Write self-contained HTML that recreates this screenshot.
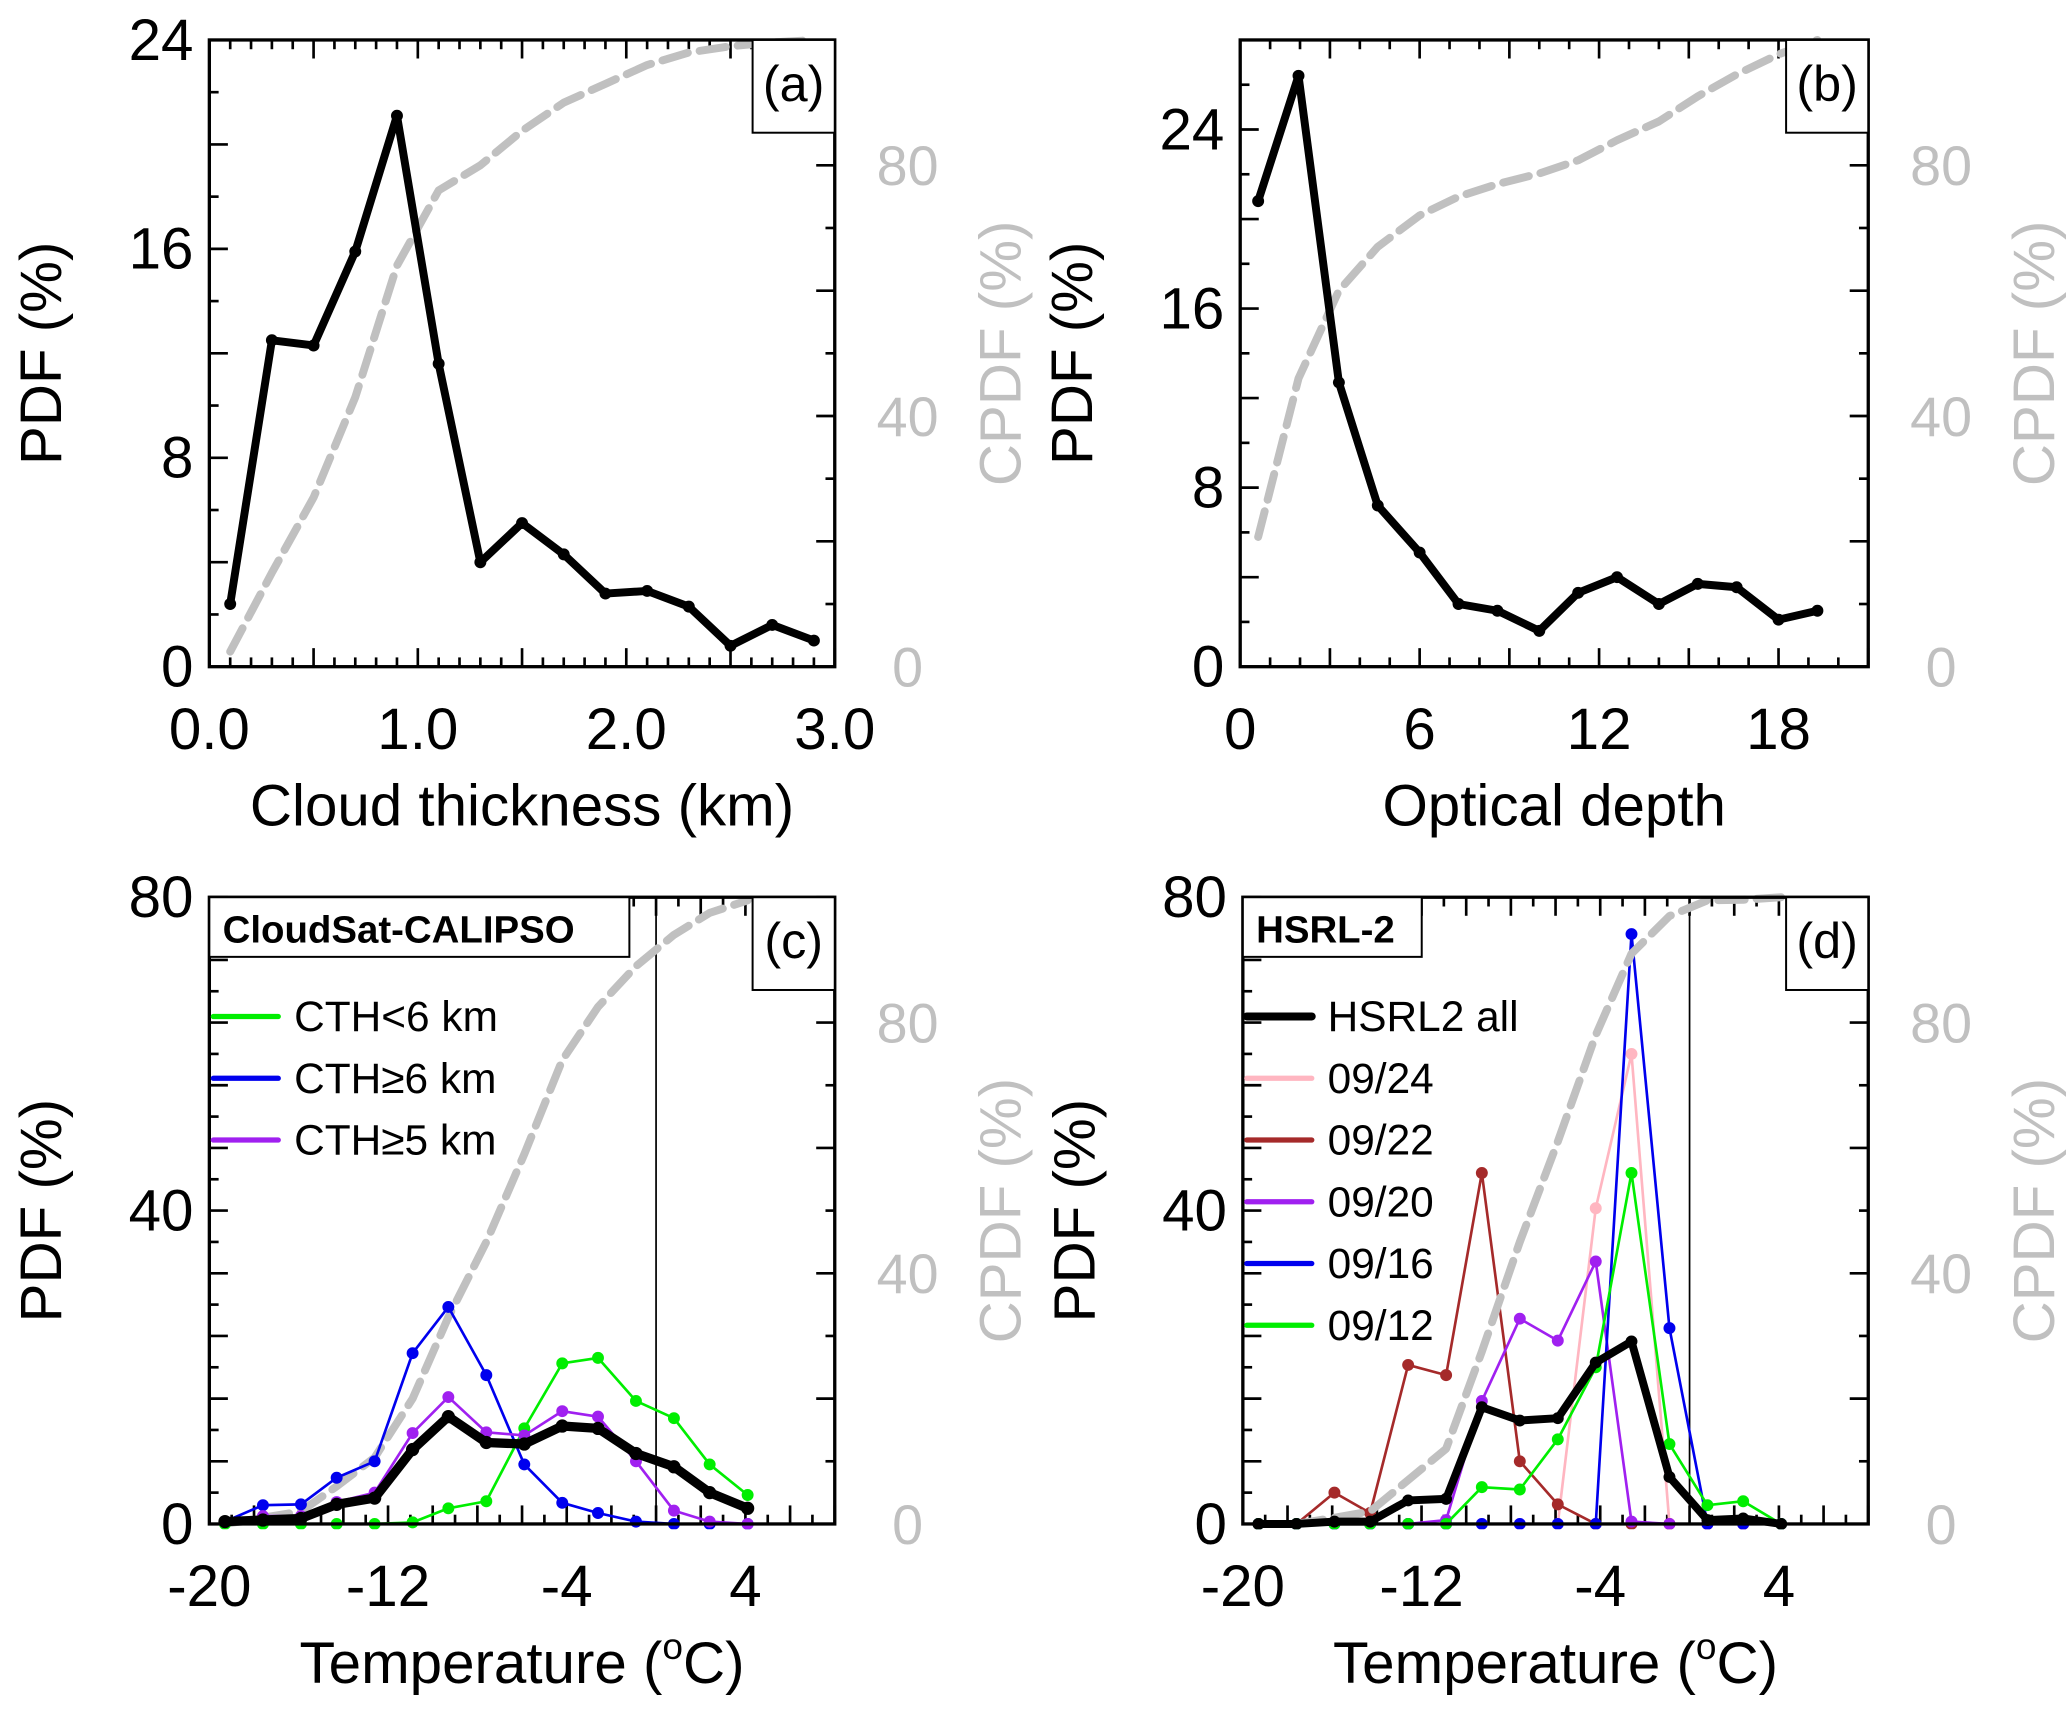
<!DOCTYPE html>
<html><head><meta charset="utf-8"><style>
html,body{margin:0;padding:0;background:#fff;}
svg{display:block;font-family:"Liberation Sans",sans-serif;}
</style></head><body>
<svg id="fig" width="2067" height="1711" viewBox="0 0 1560 1291" xmlns="http://www.w3.org/2000/svg"></svg>
<script>
// ---- Panel (a) data ----
const aX = [0.1,0.3,0.5,0.7,0.9,1.1,1.3,1.5,1.7,1.9,2.1,2.3,2.5,2.7,2.9];
const aPdf = [2.4,12.5,12.3,15.9,21.1,11.6,4.0,5.5,4.3,2.8,2.9,2.3,0.8,1.6,1.0];
const aCpdf = [2.4,15,27,43,64,76,80,85.5,90,93,96,98,99,99.6,100];
const aXTicks = [0,1,2,3];
const aXLabels = ["0.0","1.0","2.0","3.0"];
const aYTicks = [0,8,16,24];
// ---- Panel (b) data ----
const bX = [0.6,1.95,3.3,4.6,6.0,7.3,8.6,10.0,11.3,12.6,14.0,15.3,16.6,18.0,19.3];
const bPdf = [20.8,26.4,12.7,7.2,5.1,2.8,2.5,1.6,3.3,4.0,2.8,3.7,3.55,2.1,2.5];
const bCpdf = [20.7,46,60,67,72,75,77,78.7,80.8,84,87,91,94.5,97.7,100];
const bXTicks = [0,6,12,18];
const bYTicks = [0,8,16,24];
// ---- Panel (c) data ----
const cT = [-19.3,-17.6,-15.9,-14.3,-12.6,-10.9,-9.3,-7.6,-5.9,-4.2,-2.6,-0.9,0.8,2.4,4.1];
const cGreen = [0,0,0,0,0,0.2,2.0,2.9,12.2,20.5,21.2,15.7,13.5,7.6,3.7];
const cBlue = [0.3,2.4,2.5,5.9,8,21.8,27.7,19,7.6,2.7,1.4,0.3,0,0,0];
const cPurple = [0.3,1.0,1.0,2.8,4.0,11.6,16.2,11.7,11.3,14.4,13.7,8.0,1.7,0.3,0];
const cBlack = [0.3,0.5,0.7,2.5,3.3,9.5,13.7,10.4,10.2,12.5,12.2,9,7.3,4,2];
const cCpdf = [0,1,2,6,10.6,20,33,45,59,74,82.5,89,94,97.5,99.5];
// ---- Panel (d) data ----
const dT = [-19.3,-17.6,-15.9,-14.3,-12.6,-10.9,-9.3,-7.6,-5.9,-4.2,-2.6,-0.9,0.8,2.4,4.1];
const dAll = [0,0,0.3,0.3,3,3.2,14.9,13.2,13.5,20.6,23.3,6,0.5,0.7,0];
const d0924 = [0,0,0,0,0,0,0,0,0,40.3,60,0,0,0,0];
const d0922 = [0,0,4,1.4,20.3,19,44.8,8,2.5,0,0,0,0,0,0];
const d0920 = [0,0,0,0,0,0.5,15.7,26.2,23.4,33.5,0.3,0,0,0,0];
const d0916 = [0,0,0,0,0,0,0,0,0,0,75.3,25,0,0,0];
const d0912 = [0,0,0,0,0,0,4.7,4.4,10.8,20,44.8,10.2,2.4,2.9,0];
const dCpdf = [0,0,1,2,7,12,27.5,45,61,78,91,97,99.5,99.6,100];
const tXTicks = [-20,-12,-4,4];
const tYTicks = [0,40,80];
const cpdfTicks = [0,40,80];

const NS = "http://www.w3.org/2000/svg";
const svg = document.getElementById('fig');
function mk(tag, attrs, parent, text){
  const e = document.createElementNS(NS, tag);
  for (const k in attrs) e.setAttribute(k, attrs[k]);
  if (text !== undefined) e.textContent = text;
  (parent||svg).appendChild(e);
  return e;
}
function panel(o){
  const g = mk('g', {});
  
  
  const L=o.L,R=o.R,T=o.T,B=o.B;
  const sx = v => L + (v - o.x0) / (o.x1 - o.x0) * (R - L);
  const sy = v => B - (v - o.y0) / (o.y1 - o.y0) * (B - T);
  const sy2 = v => B - v / 100 * (B - T);
  const tk = mk('g', {stroke:'#000','stroke-width':2}, g);
  
  
  for (let v = o.x0; v <= o.x1 + 1e-9; v += o.xMinor) {
    const maj = Math.abs(((v - o.x0) / o.xMajor) - Math.round((v - o.x0) / o.xMajor)) < 1e-6;
    const len = maj ? 14 : 7;
    mk('line', {x1:sx(v),x2:sx(v),y1:B,y2:B-len}, tk);
    mk('line', {x1:sx(v),x2:sx(v),y1:T,y2:T+len}, tk);
  }
  for (let v = o.y0; v <= o.y1 + 1e-9; v += o.yMinor) {
    const maj = Math.abs(((v - o.y0) / o.yMajor) - Math.round((v - o.y0) / o.yMajor)) < 1e-6;
    mk('line', {x1:L,x2:L+(maj?14:7),y1:sy(v),y2:sy(v)}, tk);
  }
  for (let v = 0; v <= 100; v += 10) {
    const maj = v % 20 === 0;
    mk('line', {x1:R,x2:R-(maj?14:7),y1:sy2(v),y2:sy2(v)}, tk);
  }
  o.xTicks.forEach((v,i) => {
    const t = mk('text', {x:sx(v), y:B+62, 'font-size':44, 'text-anchor':'middle'}, g, o.xLabels ? o.xLabels[i] : String(v));
    
    
  });
  o.yTicks.forEach(v => {
    const t = mk('text', {x:L-12, y:sy(v)+15, 'font-size':44, 'text-anchor':'end'}, g, String(v));
    
    
  });
  cpdfTicks.forEach(v => {
    const t = mk('text', {x:R+55, y:sy2(v)+15, 'font-size':42, 'text-anchor':'middle', fill:'#c0c0c0'}, g, String(v));
    
    
  });
  const xt = mk('text', {x:(L+R)/2, y:B+120, 'font-size':44, 'text-anchor':'middle'}, g);
  
  
  if (o.temp) {
    xt.textContent = 'Temperature (';
    mk('tspan', {'font-size':28, dy:-18}, xt, 'o');
    mk('tspan', {dy:18}, xt, 'C)');
  } else xt.textContent = o.xTitle;
  const yt = mk('text', {x:0,y:0,'font-size':44,'text-anchor':'middle',transform:`translate(${L-112},${(T+B)/2}) rotate(-90)`}, g, 'PDF (%)');
  
  
  const yt2 = mk('text', {x:0,y:0,'font-size':44,'text-anchor':'middle',fill:'#c0c0c0',transform:`translate(${R+140},${(T+B)/2}) rotate(-90)`}, g, 'CPDF (%)');
  
  
  const cid = 'clip-' + o.name;
  const cp = mk('clipPath', {id:cid}, g);
  mk('rect', {x:L,y:T-4,width:R-L,height:B-T+8}, cp);
  const plot = mk('g', {'clip-path':`url(#${cid})`}, g);
  if (o.vline !== undefined) {
    const vl = mk('line', {x1:sx(o.vline),x2:sx(o.vline),y1:T,y2:B,stroke:'#000','stroke-width':1.3}, plot);
    
    
  }
  o.series.forEach(s => {
    const sg = mk('g', {}, plot);
    
    
    const pts = s.x.map((x,i) => `${sx(x)},${s.cpdf ? sy2(s.y[i]) : sy(s.y[i])}`).join(' ');
    mk('polyline', {points:pts, fill:'none', stroke:s.color, 'stroke-width':s.w, 'stroke-linejoin':'round', 'stroke-linecap':s.dash?'round':'butt', 'stroke-dasharray':s.dash||'none'}, sg);
    if (s.r) s.x.forEach((x,i) => {
      const c = mk('circle', {cx:sx(x), cy:s.cpdf ? sy2(s.y[i]) : sy(s.y[i]), r:s.r, fill:s.color}, sg);
      
      
    });
  });
  const fr = mk('rect', {x:L,y:T,width:R-L,height:B-T,fill:'none',stroke:'#000','stroke-width':2.5}, g);
  
  
  const lb = mk('g', {}, g);
  
  
  mk('rect', {x:R-62,y:T,width:62,height:70,fill:'#fff',stroke:'#000','stroke-width':1.5}, lb);
  mk('text', {x:R-31,y:T+46,'font-size':38,'text-anchor':'middle'}, lb, o.letter);
  if (o.title) {
    const tb = mk('g', {}, g);
    
    
    mk('rect', {x:L,y:T,width:o.titleW,height:45,fill:'#fff',stroke:'#000','stroke-width':1.5}, tb);
    mk('text', {x:L+10,y:T+34,'font-size':29,'font-weight':'bold'}, tb, o.title);
  }
  if (o.legend) {
    o.legend.forEach((e,i) => {
      const lg = mk('g', {}, g);
      
      
      const y = T + 90 + i * 46.6;
      mk('line', {x1:L+3,x2:L+52,y1:y,y2:y,stroke:e.color,'stroke-width':e.w,'stroke-linecap':'round'}, lg);
      mk('text', {x:L+64,y:y+11,'font-size':32}, lg, e.label);
    });
  }
  return g;
}
const grey = '#c0c0c0';
panel({name:'panel-a',letter:'(a)',L:158,R:630,T:30,B:503,x0:0,x1:3,xMinor:0.1,xMajor:0.5,y0:0,y1:24,yMinor:2,yMajor:4,
  xTicks:aXTicks,xLabels:aXLabels,yTicks:aYTicks,xTitle:'Cloud  thickness (km)',
  series:[{name:'cpdf-a',x:aX,y:aCpdf,color:grey,w:6,dash:'20 9',cpdf:true},
          {name:'pdf-a',x:aX,y:aPdf,color:'#000',w:6,r:4.5}]});
panel({name:'panel-b',letter:'(b)',L:936,R:1410,T:30,B:503,x0:0,x1:21,xMinor:1,xMajor:3,y0:0,y1:28,yMinor:2,yMajor:4,
  xTicks:bXTicks,yTicks:bYTicks,xTitle:'Optical depth',
  series:[{name:'cpdf-b',x:bX,y:bCpdf,color:grey,w:6,dash:'20 9',cpdf:true},
          {name:'pdf-b',x:bX,y:bPdf,color:'#000',w:6,r:4.5}]});
panel({name:'panel-c',letter:'(c)',L:158,R:630,T:677,B:1150,x0:-20,x1:8,xMinor:1,xMajor:2,y0:0,y1:80,yMinor:4,yMajor:8,
  xTicks:tXTicks,yTicks:tYTicks,temp:true,vline:0,title:'CloudSat-CALIPSO',titleW:317,
  legend:[{label:'CTH<6 km',color:'#00ee00',w:4},{label:'CTH≥6 km',color:'#0000ee',w:4},{label:'CTH≥5 km',color:'#a020f0',w:4}],
  series:[{name:'cpdf-c',x:cT,y:cCpdf,color:grey,w:6,dash:'20 9',cpdf:true},
          {name:'cth-lt6-series',x:cT,y:cGreen,color:'#00ee00',w:2,r:4.5},
          {name:'cth-ge6-series',x:cT,y:cBlue,color:'#0000ee',w:2,r:4.5},
          {name:'cth-ge5-series',x:cT,y:cPurple,color:'#a020f0',w:2,r:4.5},
          {name:'all-series-c',x:cT,y:cBlack,color:'#000',w:7,r:5}]});
panel({name:'panel-d',letter:'(d)',L:938,R:1410,T:677,B:1150,x0:-20,x1:8,xMinor:1,xMajor:2,y0:0,y1:80,yMinor:4,yMajor:8,
  xTicks:tXTicks,yTicks:tYTicks,temp:true,vline:0,title:'HSRL-2',titleW:135,
  legend:[{label:'HSRL2 all',color:'#000',w:6},{label:'09/24',color:'#ffb6c1',w:4},{label:'09/22',color:'#a52a2a',w:4},
          {label:'09/20',color:'#a020f0',w:4},{label:'09/16',color:'#0000ee',w:4},{label:'09/12',color:'#00ee00',w:4}],
  series:[{name:'series-0924',x:dT,y:d0924,color:'#ffb6c1',w:2,r:4.5},
          {name:'series-0922',x:dT,y:d0922,color:'#a52a2a',w:2,r:4.5},
          {name:'series-0920',x:dT,y:d0920,color:'#a020f0',w:2,r:4.5},
          {name:'series-0916',x:dT,y:d0916,color:'#0000ee',w:2,r:4.5},
          {name:'series-0912',x:dT,y:d0912,color:'#00ee00',w:2,r:4.5},
          {name:'cpdf-d',x:dT,y:dCpdf,color:grey,w:6,dash:'20 9',cpdf:true},
          {name:'hsrl2-all-series',x:dT,y:dAll,color:'#000',w:6,r:4.5}]});
</script>
</body></html>
